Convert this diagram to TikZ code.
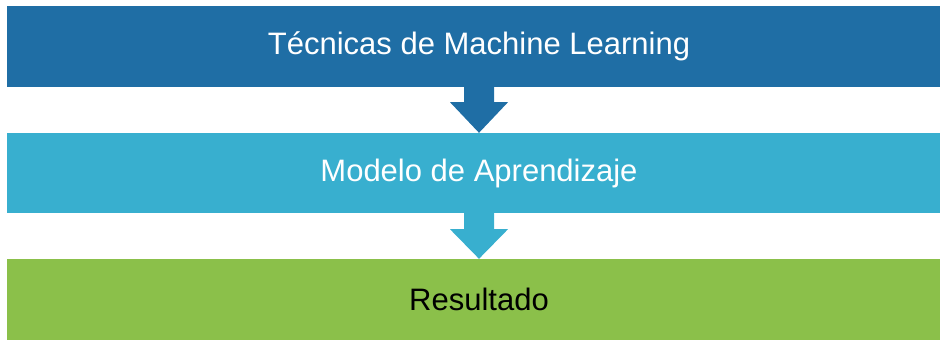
\documentclass[tikz,border=0pt]{standalone}
\usepackage{fontspec}
\setmainfont{Liberation Sans}
\usepackage{tikz}
\usetikzlibrary{calc}
\definecolor{tecblue}{RGB}{31,110,165}
\definecolor{modcyan}{RGB}{56,175,207}
\definecolor{resgreen}{RGB}{139,192,74}

\begin{document}
\begin{tikzpicture}[x=1pt,y=1pt,
  bar/.style={minimum width=944pt,minimum height=81pt,inner sep=0pt,font=\fontsize{31}{37}\selectfont}]
 \useasboundingbox (0,0) rectangle (940,-340);
  \draw (479,-46.5) node[bar,fill=tecblue,text=white] (tec) {Técnicas de Machine Learning};
  \draw (479,-173) node[bar,minimum height=80pt,fill=modcyan,text=white] (mod) {Modelo de Aprendizaje};
  \draw (479,-299.5) node[bar,fill=resgreen,text=black] (res) {Resultado};
     \fill[tecblue] ($(tec.south)+(-15,0)$) -- ++(0,-15) -- ++(-14,0) -- (mod.north)
        -- ($(tec.south)+(29,-15)$) -- ++(-14,0) -- ($(tec.south)+(15,0)$) -- cycle;
     \fill[modcyan] ($(mod.south)+(-15,0)$) -- ++(0,-16) -- ++(-14,0) -- (res.north)
        -- ($(mod.south)+(29,-16)$) -- ++(-14,0) -- ($(mod.south)+(15,0)$) -- cycle;
\end{tikzpicture}
\end{document}
